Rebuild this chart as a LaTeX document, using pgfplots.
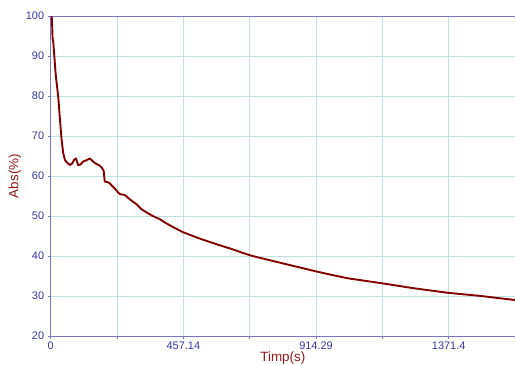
\documentclass[border=0pt]{standalone}
\usepackage{fontspec}
\setmainfont{Liberation Sans}
\usepackage{pgfplots}
\pgfplotsset{compat=1.18}
\definecolor{axcol}{RGB}{120,120,190}
\definecolor{tickcol}{RGB}{55,55,160}
\definecolor{labcol}{RGB}{150,25,25}
\definecolor{curvecol}{RGB}{130,0,0}
\definecolor{gridcol}{RGB}{190,226,228}
\begin{document}
\begin{tikzpicture}
\begin{axis}[
  at={(0,0)}, anchor=south west,
  scale only axis, width=464.3bp, height=320bp,
  xmin=0, xmax=1600, ymin=20, ymax=100,
  axis x line*=box, axis y line*=left,
  axis line style={-, color=axcol, line width=0.8bp},
  every outer y axis line/.append style={-},
  xtick={0,457.14,914.29,1371.4},
  xticklabels={0,457.14,914.29,1371.4},
  minor xtick={228.57,685.71,1142.86,1600},
  ytick={20,30,...,100},
  xtick pos=left, ytick pos=left,
  tick align=outside,
  major tick length=3bp, minor tick length=3bp,
  tick style={color=axcol, line width=0.6bp},
  grid=both,
  major grid style={color=gridcol, line width=0.8bp},
  minor grid style={color=gridcol, line width=0.8bp},
  /pgf/number format/assume math mode=true,
  ticklabel style={font=\fontsize{11}{13}\selectfont, text=tickcol},
  xticklabel style={yshift=1bp},
  xlabel={Timp(s)}, ylabel={Abs(\%)},
  label style={font=\fontsize{13.5}{15}\selectfont, text=labcol},
  xlabel style={yshift=4bp},
  ylabel style={yshift=-2bp},
  clip=true,
]
\addplot[color=curvecol, line width=1.9bp, line join=round] coordinates {
(3.4,100) (5,97.7) (6.5,94.4) (8.9,93.5) (11,91.5) (17,85.5) (26,79.8) (32,74)
(37.7,69) (43.2,65.7) (49,64) (57,63.3) (66.5,62.75) (75,63.2) (80,64) (87,64.4)
(94.6,62.7) (103,62.9) (111.8,63.6) (122,63.9) (134.7,64.4) (146,63.6)
(158,63.0) (169,62.6) (176,62.1) (182.6,61.3) (186.2,58.6) (195,58.5) (203.3,58.2)
(212,57.5) (220.5,56.9) (230,56.1) (237.6,55.5) (254.7,55.25) (263,54.8)
(271.9,54.2) (283,53.6) (294.9,53) (303,52.4) (312,51.75) (330,50.9)
(351.8,50) (375,49.25) (397.7,48.2) (425,47.1) (454.6,46) (483,45.2)
(511.9,44.4) (540,43.7) (569,43) (597,42.35) (626,41.7) (655,40.95)
(685.7,40.2) (712,39.7) (740.6,39.2) (769,38.7) (797.5,38.2) (826,37.7)
(854.7,37.2) (886,36.65) (917.5,36.1) (970,35.25) (1026,34.4) (1083,33.8)
(1140,33.2) (1197,32.55) (1254.9,31.9) (1312,31.35) (1369,30.8) (1426,30.4)
(1483,30) (1540,29.5) (1600,29)
};
\end{axis}
\pgfresetboundingbox
\path[use as bounding box] (-50.7bp,-29bp) rectangle (464.3bp,336bp);
\end{tikzpicture}
\end{document}
